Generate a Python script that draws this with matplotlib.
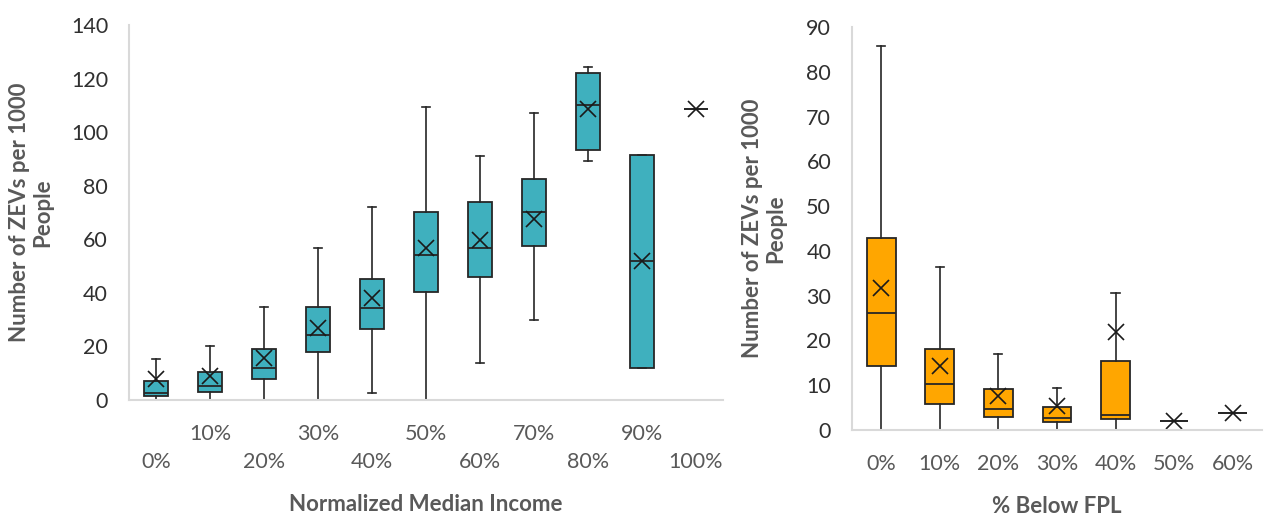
import matplotlib
matplotlib.use("Agg")
import matplotlib.pyplot as plt

plt.rcParams["font.family"] = ["Lato", "DejaVu Sans"]

# Left panel: ZEVs per 1000 people by normalized median income
income_labels = ["0%", "10%", "20%", "30%", "40%", "50%", "60%", "70%", "80%", "90%", "100%"]
income_whislo = [0, 0, 0, 0, 2.5, 0, 13.7, 29.9, 89.3, 12.1, 108.5]
income_q1 = [1.5, 3.1, 7.8, 18.0, 26.6, 40.3, 45.8, 57.6, 93.3, 12.1, 108.5]
income_med = [2.6, 5.3, 12.1, 24.1, 34.5, 54.0, 56.7, 70.3, 110.0, 51.8, 108.5]
income_q3 = [7.1, 10.4, 19.2, 34.7, 45.2, 70.1, 74.0, 82.5, 122.0, 91.5, 108.5]
income_whishi = [15.3, 20.3, 34.8, 56.9, 71.9, 109.5, 91.1, 107.1, 124.3, 91.5, 108.5]
income_mean = [7.8, 9.0, 15.8, 27.0, 38.0, 56.6, 59.7, 67.4, 108.5, 51.8, 108.5]

# Right panel: ZEVs per 1000 people by % below FPL
fpl_labels = ["0%", "10%", "20%", "30%", "40%", "50%", "60%"]
fpl_whislo = [0, 0, 0, 0, 0, 1.9, 3.7]
fpl_q1 = [14.4, 5.7, 2.8, 1.7, 2.4, 1.9, 3.7]
fpl_med = [26.2, 10.2, 4.7, 2.6, 3.3, 1.9, 3.7]
fpl_q3 = [42.9, 18.1, 9.1, 5.1, 15.3, 1.9, 3.7]
fpl_whishi = [85.8, 36.3, 17.0, 9.3, 30.6, 1.9, 3.7]
fpl_mean = [31.6, 14.4, 7.6, 5.4, 21.8, 1.9, 3.7]

TEAL = "#3fb0be"
ORANGE = "#ffa600"
LABEL = "#595959"
TICK = "#303030"
SPINE = "#d9d9d9"
YLABEL = "Number of ZEVs per 1000\nPeople"


def draw_panel(ax, labels, whislo, q1, med, q3, whishi, mean, color, width):
    stats = []
    for i in range(len(labels)):
        stats.append(dict(whislo=whislo[i], q1=q1[i], med=med[i], q3=q3[i],
                          whishi=whishi[i], mean=mean[i], fliers=[]))
    pos = list(range(len(labels)))
    ax.bxp(stats, positions=pos, widths=width, patch_artist=True,
           showmeans=True, showfliers=False,
           boxprops=dict(facecolor=color, edgecolor="#262626", linewidth=1.3),
           medianprops=dict(color="#262626", linewidth=1.3),
           whiskerprops=dict(color="#262626", linewidth=1.2),
           capprops=dict(color="#262626", linewidth=1.2),
           capwidths=0.14,
           meanprops=dict(marker="x", markersize=11, markeredgecolor="#1a1a1a",
                          markeredgewidth=1.2))
    ax.set_xlim(-0.5, len(labels) - 0.5)
    for s in ["top", "right"]:
        ax.spines[s].set_visible(False)
    for s in ["left", "bottom"]:
        ax.spines[s].set_color(SPINE)
        ax.spines[s].set_linewidth(1.5)
    ax.tick_params(length=0)
    ax.tick_params(axis="y", labelsize=15.5, labelcolor=TICK, pad=15)


fig = plt.figure(figsize=(12.68, 5.16), dpi=100)

ax1 = fig.add_axes([0.1017, 0.2248, 0.4685, 0.7267])
draw_panel(ax1, income_labels, income_whislo, income_q1, income_med, income_q3,
           income_whishi, income_mean, TEAL, 0.46)
ax1.set_ylim(0, 140)
ax1.set_yticks(range(0, 141, 20))
ax1.set_xticks(range(len(income_labels)))
ax1.set_xticklabels(income_labels)
for i, t in enumerate(ax1.get_xticklabels()):
    t.set_y(-0.05 if i % 2 else -0.125)
    t.set_fontsize(15.5)
    t.set_color(LABEL)
ax1.set_ylabel(YLABEL, fontsize=16, fontweight="bold", color=LABEL,
               linespacing=1.15, va="center")
ax1.yaxis.set_label_coords(-0.165, 0.5)
ax1.set_xlabel("Normalized Median Income", fontsize=16, fontweight="bold",
               color=LABEL, va="center")
ax1.xaxis.set_label_coords(0.5, -0.28)

ax2 = fig.add_axes([0.6719, 0.1667, 0.3233, 0.781])
draw_panel(ax2, fpl_labels, fpl_whislo, fpl_q1, fpl_med, fpl_q3,
           fpl_whishi, fpl_mean, ORANGE, 0.49)
ax2.set_ylim(0, 90)
ax2.set_yticks(range(0, 91, 10))
ax2.set_xticks(range(len(fpl_labels)))
ax2.set_xticklabels(fpl_labels, fontsize=15.5, color=LABEL)
ax2.tick_params(axis="x", pad=17)
ax2.set_ylabel(YLABEL, fontsize=16, fontweight="bold", color=LABEL,
               linespacing=1.15, va="center")
ax2.yaxis.set_label_coords(-0.215, 0.5)
ax2.set_xlabel("% Below FPL", fontsize=16, fontweight="bold",
               color=LABEL, va="center")
ax2.xaxis.set_label_coords(0.5, -0.191)

fig.savefig("out.png", dpi=100)
